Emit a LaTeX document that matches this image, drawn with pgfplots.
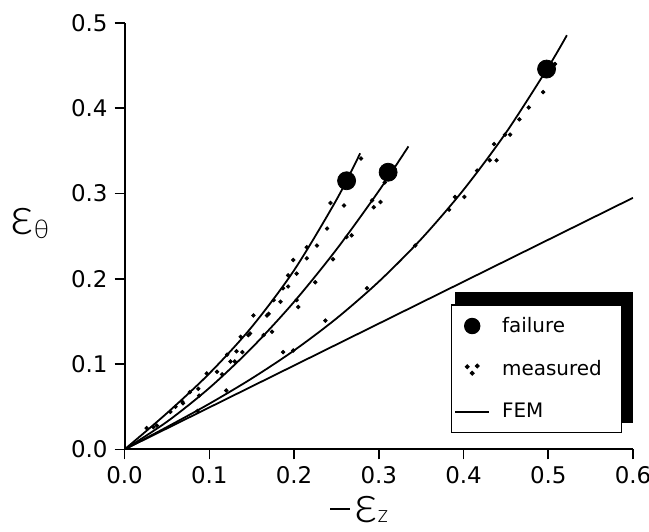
\documentclass[border=0pt]{standalone}
\usepackage{fontspec}
\setmainfont{DejaVu Sans}
\IfFontExistsTF{Lato Light}{\newfontfamily\thinfont{Lato Light}}{\newfontfamily\thinfont{DejaVu Sans}}
\usepackage{pgfplots}
\pgfplotsset{compat=1.18}
\usetikzlibrary{backgrounds}
\newcommand{\bigeps}{\raisebox{0pt}[13.5bp][0pt]{\scalebox{2}{\fontsize{13}{13}\selectfont ε}}}
\newcommand{\entry}[1]{\hspace{4bp}\makebox[56bp][l]{#1}}

\begin{document}
\begin{tikzpicture}
\begin{axis}[
  name=ax,
  width=254bp, height=213bp, scale only axis,
  xmin=0, xmax=0.6, ymin=0, ymax=0.5,
  axis x line*=bottom, axis y line*=left,
  axis line style={line width=1.1pt},
  xtick={0,0.1,0.2,0.3,0.4,0.5,0.6},
  ytick={0,0.1,0.2,0.3,0.4,0.5},
  tick align=outside, major tick length=5bp,
  tick style={line width=0.8pt, black},
  /pgf/number format/.cd, fixed, fixed zerofill, precision=1, assume math mode=true,
  /pgfplots/.cd,
  ticklabel style={font=\fontsize{11.5}{13}\selectfont},
  every axis y label/.style={at={(axis description cs:-0.225,0.53)}, anchor=west, inner sep=0pt},
  every axis x label/.style={at={(axis description cs:0.404,-0.1714)}, anchor=base west, inner sep=0pt},
  ylabel={\thinfont\bigeps\raisebox{-2bp}{\fontsize{13}{14}\selectfont θ}},
  xlabel={\thinfont\raisebox{6.3bp}{\rule{10bp}{1bp}}\hspace{2bp}\bigeps{\fontsize{12}{13}\selectfont z}},
  legend style={name=leg, at={(0.978,0.0376)}, anchor=south east, draw=black, line width=0.6pt,
    fill=white, font=\fontsize{10}{12}\selectfont, row sep=8.5bp,
    inner xsep=1.5bp, inner ysep=4bp},
  legend cell align=left,
]
% failure points
\addplot[only marks, mark=*, mark size=4.5bp, black,
  legend image code/.code={\fill[black] (0.3cm,0) circle (3.8bp);}]
  coordinates {(0.262,0.315)(0.311,0.325)(0.498,0.446)};
\addlegendentry{\entry{failure}}
% measured points
\addplot[only marks, mark=*, mark size=0.9pt, black,
  legend image code/.code={
    \fill[black] (0.3cm,0) ++(-2.5bp,1.2bp) circle (0.9bp);
    \fill[black] (0.3cm,0) ++(2.5bp,1.6bp) circle (0.9bp);
    \fill[black] (0.3cm,0) ++(0bp,-2bp) circle (0.9bp);}]
  coordinates {
  (0.026,0.025)(0.038,0.028)(0.054,0.044)(0.060,0.050)(0.068,0.056)(0.069,0.054)
  (0.077,0.067)(0.087,0.071)(0.088,0.063)(0.097,0.089)(0.109,0.091)(0.115,0.088)
  (0.121,0.111)(0.125,0.103)(0.130,0.103)(0.132,0.115)(0.139,0.114)(0.137,0.132)
  (0.146,0.134)(0.148,0.136)(0.152,0.157)(0.164,0.134)(0.168,0.157)(0.170,0.159)
  (0.174,0.138)(0.176,0.175)(0.184,0.173)(0.187,0.189)(0.193,0.191)(0.203,0.175)
  (0.205,0.167)(0.193,0.204)(0.203,0.206)(0.199,0.222)(0.215,0.224)(0.215,0.237)
  (0.225,0.196)(0.227,0.239)(0.239,0.259)(0.243,0.289)(0.259,0.286)(0.279,0.341)
  (0.246,0.223)(0.262,0.249)(0.268,0.251)(0.292,0.292)(0.302,0.290)(0.294,0.284)
  (0.307,0.313)
  (0.034,0.026)(0.086,0.045)(0.120,0.069)(0.187,0.114)(0.199,0.116)(0.237,0.151)
  (0.286,0.189)(0.343,0.239)(0.383,0.281)(0.390,0.296)(0.401,0.296)(0.416,0.327)
  (0.431,0.339)(0.439,0.339)(0.436,0.358)(0.449,0.369)(0.455,0.369)(0.466,0.387)
  (0.477,0.401)(0.494,0.419)(0.508,0.452)
  };
\addlegendentry{\entry{measured}}
% FEM straight line
\addplot[black, line width=0.9pt] coordinates {(0,0)(0.6,0.295)};
\addlegendentry{\entry{FEM}}
% curves through the measured data
\addplot[black, line width=0.9pt, smooth, forget plot] coordinates {
  (0,0)(0.05,0.0425)(0.1,0.089)(0.15,0.1435)(0.2,0.210)(0.25,0.2926)(0.278,0.3472)};
\addplot[black, line width=0.9pt, smooth, forget plot] coordinates {
  (0,0)(0.05,0.0324)(0.1,0.072)(0.15,0.1189)(0.2,0.173)(0.25,0.2344)(0.3,0.303)(0.335,0.3553)};
\addplot[black, line width=0.9pt, smooth, forget plot] coordinates {
  (0,0)(0.05,0.0262)(0.1,0.0535)(0.15,0.0831)(0.2,0.116)(0.25,0.1535)(0.3,0.1967)
  (0.35,0.2466)(0.4,0.3044)(0.45,0.3712)(0.5,0.4483)(0.522,0.4857)};
\end{axis}
\begin{scope}[on background layer]
\fill[black] ([xshift=2bp,yshift=5bp]leg.south west) rectangle ([xshift=5.5bp,yshift=6bp]leg.north east);
\end{scope}
\pgfresetboundingbox
\path ([xshift=-62.25bp, yshift=-41bp]ax.south west) rectangle ([xshift=8bp, yshift=11.5bp]ax.north east);
\end{tikzpicture}
\end{document}
